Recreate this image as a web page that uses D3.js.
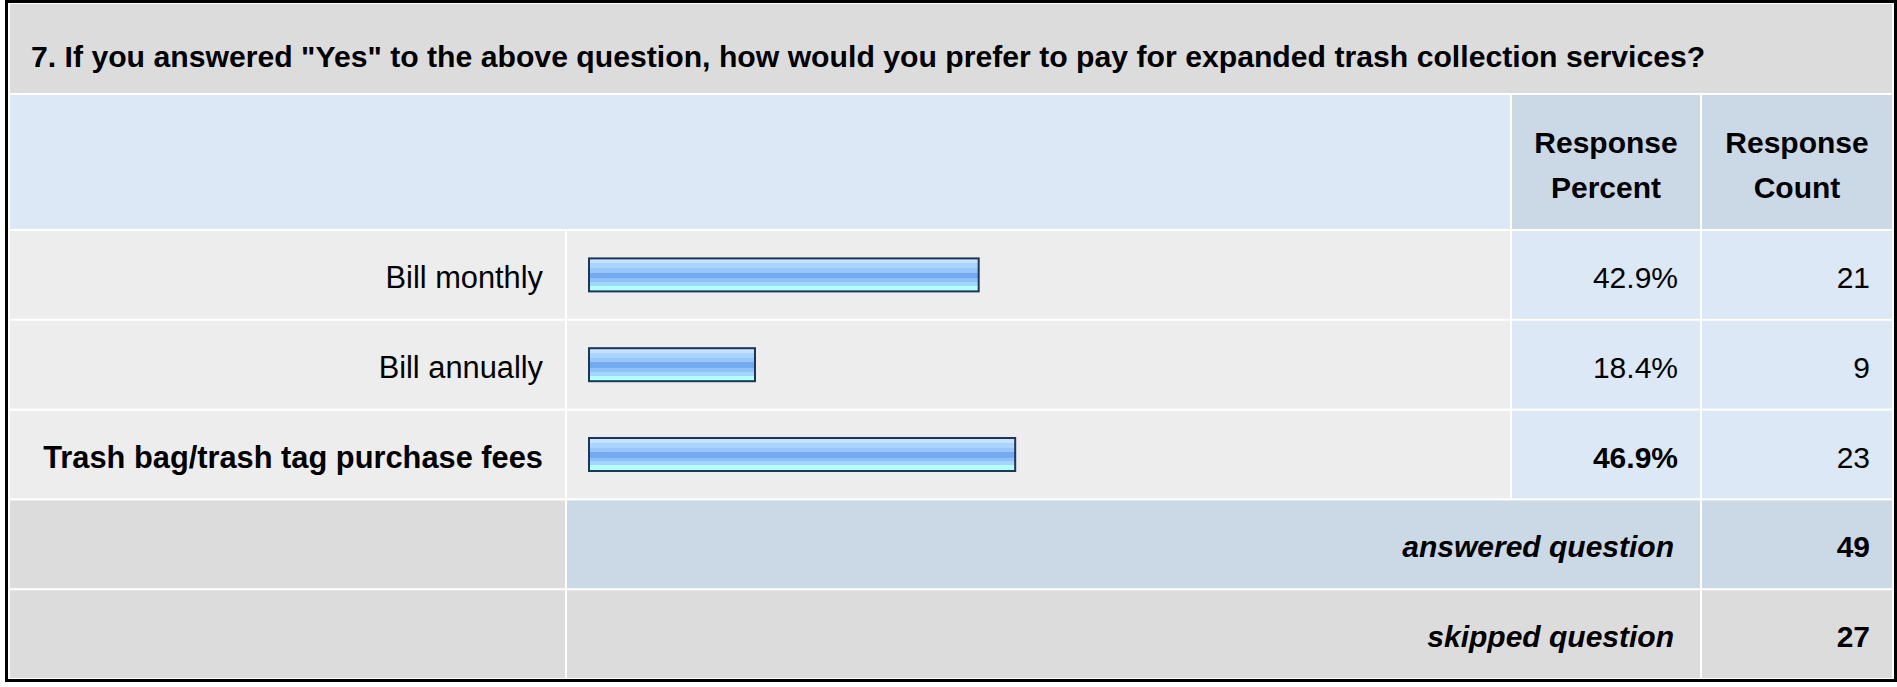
<!DOCTYPE html>
<html>
<head>
<meta charset="utf-8">
<script src="https://cdn.jsdelivr.net/npm/d3@7"></script>
<style>
  html, body { margin: 0; padding: 0; background: #ffffff; }
  svg { display: block; }
  text { font-family: "Liberation Sans", Arial, Helvetica, sans-serif; fill: #000; }
</style>
</head>
<body>
<svg id="chart" width="1897" height="687"></svg>
<script>
// Survey question and its answer options
const questionTitle = '7. If you answered "Yes" to the above question, how would you prefer to pay for expanded trash collection services?';
const answerOptions = ["Bill monthly", "Bill annually", "Trash bag/trash tag purchase fees"];
const responsePercent = [42.9, 18.4, 46.9];
const responseCount = [21, 9, 23];
const columnHeaders = [["Response", "Percent"], ["Response", "Count"]];
const summaryLabels = ["answered question", "skipped question"];
const summaryCounts = [49, 27];

const svg = d3.select("#chart");

// Column edges of the table
const col = {
  label: [10, 565],
  bar: [567, 1510],
  pct: [1512, 1700],
  cnt: [1702, 1892]
};
const pad = 22;
const fs = 30;        // body font size
const fsLabel = 30.8; // answer label font size

// Colours
const C = {
  titleBg: "#dcdcdc",
  headBg: "#dce8f5",
  headCell: "#cbd8e6",
  rowBg: "#ededed",
  valueBg: "#dce8f5",
  summaryBg: "#dcdcdc",
  border: "#000000",
  barStroke: "#1d3557"
};

// Row layout: 3 answer rows followed by 2 summary rows
const rowIds = d3.range(answerOptions.length + summaryLabels.length);
const y = d3.scaleBand().domain(rowIds).range([229, 678]);
const rowTop = i => y(i) + 2;
const rowH = () => y.step() - 2;
const rowMid = i => rowTop(i) + rowH() / 2;

// Bar scale
const x = d3.scaleLinear().domain([0, 100]).range([588, 1501]);

// Glossy bar gradient
const defs = svg.append("defs");
const grad = defs.append("linearGradient")
  .attr("id", "barGrad").attr("x1", 0).attr("x2", 0).attr("y1", 0).attr("y2", 1);
const bands = [
  [0.00, 0.14, "#c6e2ff"],
  [0.14, 0.29, "#a8d4ff"],
  [0.29, 0.43, "#96c6fc"],
  [0.43, 0.60, "#74aaf0"],
  [0.60, 0.71, "#8ec2fc"],
  [0.71, 0.83, "#a2d6ff"],
  [0.83, 1.00, "#b2ffff"]
];
bands.forEach(([a, b, c]) => {
  grad.append("stop").attr("offset", a).attr("stop-color", c);
  grad.append("stop").attr("offset", b).attr("stop-color", c);
});

// Outer frame
svg.append("rect")
  .attr("x", 6.5).attr("y", 1.5)
  .attr("width", 1889).attr("height", 679)
  .attr("fill", "#ffffff")
  .attr("stroke", C.border).attr("stroke-width", 3);

// Title band
svg.append("rect")
  .attr("x", 10).attr("y", 4).attr("width", 1882).attr("height", 89)
  .attr("fill", C.titleBg);
svg.append("text")
  .attr("x", 31).attr("y", 67)
  .attr("font-size", 30.2).attr("font-weight", "bold")
  .text(questionTitle);

// Header band
const headTop = 95, headBot = 229;
svg.append("rect")
  .attr("x", 10).attr("y", headTop)
  .attr("width", col.bar[1] - 10).attr("height", headBot - headTop)
  .attr("fill", C.headBg);

const headCols = [col.pct, col.cnt];
const headG = svg.selectAll("g.head").data(columnHeaders).join("g").attr("class", "head");
headG.append("rect")
  .attr("x", (d, i) => headCols[i][0]).attr("y", headTop)
  .attr("width", (d, i) => headCols[i][1] - headCols[i][0]).attr("height", headBot - headTop)
  .attr("fill", C.headCell);
headG.append("text")
  .attr("text-anchor", "middle")
  .attr("font-size", fs).attr("font-weight", "bold")
  .selectAll("tspan").data((d, i) => d.map(s => ({ s, i }))).join("tspan")
  .attr("x", d => (headCols[d.i][0] + headCols[d.i][1]) / 2)
  .attr("y", (d, j) => 152.5 + j * 45)
  .text(d => d.s);

// Answer rows
const maxPct = d3.max(responsePercent);
const rows = svg.selectAll("g.row")
  .data(answerOptions.map((a, i) => ({ a, p: responsePercent[i], c: responseCount[i], i })))
  .join("g").attr("class", "row");

rows.append("rect")
  .attr("x", col.label[0]).attr("y", d => rowTop(d.i))
  .attr("width", col.label[1] - col.label[0]).attr("height", rowH())
  .attr("fill", C.rowBg);
rows.append("rect")
  .attr("x", col.bar[0]).attr("y", d => rowTop(d.i))
  .attr("width", col.bar[1] - col.bar[0]).attr("height", rowH())
  .attr("fill", C.rowBg);
rows.append("rect")
  .attr("x", col.pct[0]).attr("y", d => rowTop(d.i))
  .attr("width", col.pct[1] - col.pct[0]).attr("height", rowH())
  .attr("fill", C.valueBg);
rows.append("rect")
  .attr("x", col.cnt[0]).attr("y", d => rowTop(d.i))
  .attr("width", col.cnt[1] - col.cnt[0]).attr("height", rowH())
  .attr("fill", C.valueBg);

rows.append("text")
  .attr("x", col.label[1] - pad).attr("y", d => rowMid(d.i) + 13)
  .attr("text-anchor", "end").attr("font-size", fsLabel)
  .attr("font-weight", d => d.p === maxPct ? "bold" : "normal")
  .text(d => d.a);

const barH = 35;
rows.append("rect")
  .attr("x", x(0) + 1).attr("y", d => rowMid(d.i) - barH / 2 + 1)
  .attr("width", d => x(d.p) - x(0) - 2).attr("height", barH - 2)
  .attr("fill", "url(#barGrad)")
  .attr("stroke", C.barStroke).attr("stroke-width", 2);

rows.append("text")
  .attr("x", col.pct[1] - pad).attr("y", d => rowMid(d.i) + 13)
  .attr("text-anchor", "end").attr("font-size", fs)
  .attr("font-weight", d => d.p === maxPct ? "bold" : "normal")
  .text(d => d.p.toFixed(1) + "%");

rows.append("text")
  .attr("x", col.cnt[1] - pad).attr("y", d => rowMid(d.i) + 13)
  .attr("text-anchor", "end").attr("font-size", fs)
  .text(d => d.c);

// Summary rows
const sumFill = [C.headCell, C.summaryBg];
const sums = svg.selectAll("g.sum")
  .data(summaryLabels.map((s, k) => ({ s, n: summaryCounts[k], k, i: answerOptions.length + k })))
  .join("g").attr("class", "sum");

sums.append("rect")
  .attr("x", col.label[0]).attr("y", d => rowTop(d.i))
  .attr("width", col.label[1] - col.label[0]).attr("height", rowH())
  .attr("fill", C.summaryBg);
sums.append("rect")
  .attr("x", col.bar[0]).attr("y", d => rowTop(d.i))
  .attr("width", col.pct[1] - col.bar[0]).attr("height", rowH())
  .attr("fill", d => sumFill[d.k]);
sums.append("rect")
  .attr("x", col.cnt[0]).attr("y", d => rowTop(d.i))
  .attr("width", col.cnt[1] - col.cnt[0]).attr("height", rowH())
  .attr("fill", d => sumFill[d.k]);

sums.append("text")
  .attr("x", col.pct[1] - pad - 4).attr("y", d => rowMid(d.i) + 13)
  .attr("text-anchor", "end").attr("font-size", fs)
  .attr("font-weight", "bold").attr("font-style", "italic")
  .text(d => d.s);
sums.append("text")
  .attr("x", col.cnt[1] - pad).attr("y", d => rowMid(d.i) + 13)
  .attr("text-anchor", "end").attr("font-size", fs)
  .attr("font-weight", "bold")
  .text(d => d.n);
</script>
</body>
</html>
